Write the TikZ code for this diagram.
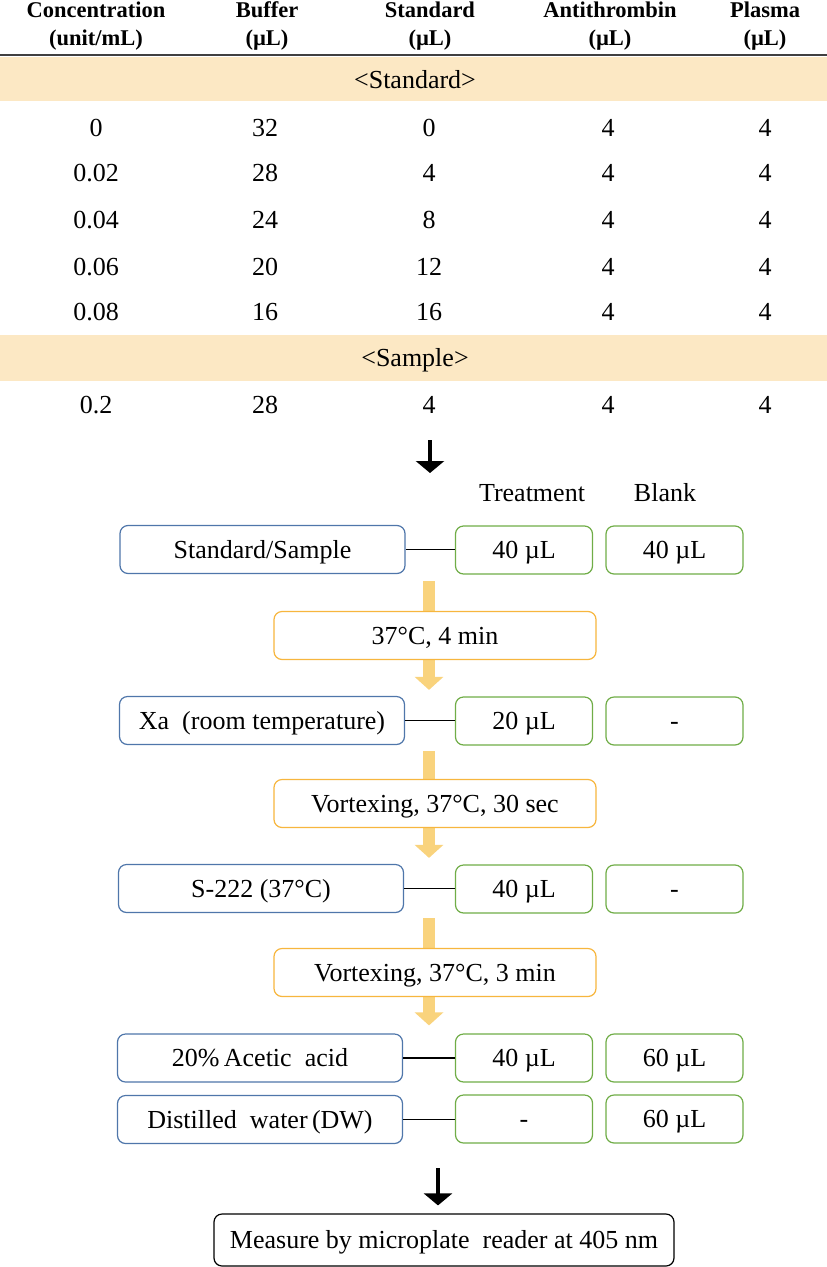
\documentclass[tikz,border=0pt]{standalone}
\usepackage{fontspec}
\setmainfont{Liberation Serif}
\usetikzlibrary{arrows.meta,backgrounds}
\definecolor{band}{RGB}{252,232,196}
\definecolor{bluebd}{RGB}{79,118,170}
\definecolor{greenbd}{RGB}{112,173,71}
\definecolor{orangebd}{RGB}{247,182,62}
\definecolor{orangefl}{RGB}{249,211,125}
\definecolor{rulegray}{RGB}{64,64,64}
\begin{document}
\begin{tikzpicture}[x=1pt,y=-1pt,
  body/.style={font=\fontsize{26}{30}\selectfont, inner sep=0pt, text height=20pt, text depth=3pt},
  head/.style={font=\fontsize{22.5}{28}\selectfont\bfseries, align=center, inner sep=0pt},
  box/.style={draw, rounded corners=8pt, line width=1.2pt, minimum height=48pt, inner sep=0pt, fill=white, font=\fontsize{26}{30}\selectfont, text height=20pt, text depth=3pt},
  bluebox/.style={box, draw=bluebd, minimum width=285pt},
  greenbox/.style={box, draw=greenbd, minimum width=137pt},
  orangebox/.style={box, draw=orangebd, minimum width=322pt},
  measbox/.style={box, draw=black, minimum width=460pt, minimum height=52pt},
  link/.style={line width=1.5pt},
  oarrow/.style={draw=orangefl, line width=12pt, -{Triangle[width=28pt,length=13pt]}},
  barrow/.style={draw=black, line width=4.5pt, -{Triangle[width=28pt,length=12pt]}}
]
\useasboundingbox (0,0) rectangle (827,1267);
% table bands and rule
\fill[band] (0,57) rectangle (827,101);
\fill[band] (0,335) rectangle (827,381);
\draw[rulegray, line width=2.5pt] (0,55) -- (827,55);
% header
\node[head] (h1) at (96,26) {Concentration\\(unit/mL)};
\node[head] (h2) at (267,26) {Buffer\\(µL)};
\node[head] (h3) at (430,26) {Standard\\(µL)};
\node[head] (h4) at (610,26) {Antithrombin\\(µL)};
\node[head] (h5) at (765,26) {Plasma\\(µL)};
\node[body] (bstd) at (415,80) {<Standard>};
\node[body] (bsmp) at (415,358) {<Sample>};
% data rows
\foreach \y/\a/\b/\c [count=\i] in {128/0/32/0, 173/0.02/28/4, 220/0.04/24/8, 267/0.06/20/12, 312/0.08/16/16, 405/0.2/28/4}{
  \node[body] (c1r\i) at (96,\y) {\a};
  \node[body] (c2r\i) at (265,\y) {\b};
  \node[body] (c3r\i) at (429,\y) {\c};
  \node[body] (c4r\i) at (608,\y) {4};
  \node[body] (c5r\i) at (765,\y) {4};
}
% flow labels
\node[body] (treat) at (532,493) {Treatment};
\node[body] (blank) at (665,493) {Blank};
% rows
\node[bluebox] (r1b) at (262.5,549.5) {Standard/Sample};
\node[greenbox] (r1g) at (524,550) {40 µL};
\node[greenbox] (r1k) at (674.5,550) {40 µL};
\node[orangebox] (ob1) at (435,635.5) {37°C, 4 min};
\node[bluebox] (r2b) at (262,720.5) {Xa\ \ (room temperature)};
\node[greenbox] (r2g) at (524,721) {20 µL};
\node[greenbox] (r2k) at (674.5,721) {-};
\node[orangebox] (ob2) at (435,803.5) {Vortexing,\ 37°C, 30 sec};
\node[bluebox] (r3b) at (261,888.5) {S-222 (37°C)};
\node[greenbox] (r3g) at (524,889) {40 µL};
\node[greenbox] (r3k) at (674.5,889) {-};
\node[orangebox] (ob3) at (435,972.5) {Vortexing,\ 37°C, 3 min};
\node[bluebox] (r4b) at (260,1058) {20\%\,Acetic\ \ acid};
\node[greenbox] (r4g) at (524,1058) {40 µL};
\node[greenbox] (r4k) at (674.5,1058) {60 µL};
\node[bluebox] (r5b) at (260,1119.5) {Distilled\ \ water\,(DW)};
\node[greenbox] (r5g) at (524,1119) {-};
\node[greenbox] (r5k) at (674.5,1119) {60 µL};
\node[measbox] (meas) at (444,1240) {Measure by microplate\ \ reader at 405 nm};
% links
\foreach \r in {1,...,5}{\draw[link] (r\r b.east) -- (r\r b.east -| r\r g.west);}
% orange arrows
\coordinate (ox) at (429,0);
\begin{scope}[on background layer]
\draw[oarrow, shorten <=7pt, shorten >=6pt] (r1b.south -| ox) -- (r2b.north -| ox);
\draw[oarrow, shorten <=6pt, shorten >=6pt] (r2b.south -| ox) -- (r3b.north -| ox);
\draw[oarrow, shorten <=5pt, shorten >=8pt] (r3b.south -| ox) -- (r4b.north -| ox);
\end{scope}
% black arrows
\coordinate (a1s) at (430,440);
\coordinate (a1e) at (430,473);
\draw[barrow] (a1s) -- (a1e);
\coordinate (a2x) at (438,0);
\draw[barrow, shorten <=24pt, shorten >=8pt] (r5b.south -| a2x) -- (meas.north -| a2x);
\end{tikzpicture}
\end{document}
